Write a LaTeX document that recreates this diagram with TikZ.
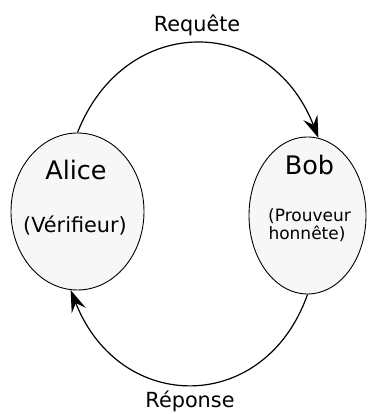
\documentclass[tikz,border=0pt]{standalone}
\usepackage{fontspec}
\setmainfont{DejaVu Sans}
\usetikzlibrary{arrows.meta,shapes.geometric}
\begin{document}
\begin{tikzpicture}[x=1pt,y=1pt,
  party/.style={draw=black,line width=0.9pt,fill=black!3,ellipse,inner sep=0pt},
  flow/.style={line width=1.2pt,-{Stealth[length=22pt,width=15pt,inset=8pt]}},
  partyname/.style={anchor=base,font=\fontsize{25.5}{28}\selectfont},
  partyrole/.style={anchor=base,font=\fontsize{20.8}{24}\selectfont},
  smallrole/.style={anchor=base,font=\fontsize{17}{18}\selectfont},
  arclabel/.style={anchor=base,font=\fontsize{20.8}{24}\selectfont}]
\useasboundingbox (0,0) rectangle (367,414);
% the two parties
\node[party,minimum width=133pt,minimum height=157pt] (alice) at (77.5,202.5) {};
\node[party,minimum width=117pt,minimum height=157pt] (bob) at (307.5,198.5) {};
\node[partyname] (alicename) at (76,234) {Alice};
\node[partyrole] (alicerole) at (75,181) {(Vérifieur)};
\node[partyname] (bobname) at (309.5,239) {Bob};
\node[smallrole] (bobrole1) at (309.5,192) {(Prouveur};
\node[smallrole] (bobrole2) at (307,174) {honnête)};
% request and response
\draw[flow] (alice.north) .. controls (125,402) and (270,400) .. (bob.82);
\draw[flow] (bob.south) .. controls (265,-1) and (120,-1) .. (alice.265);
\node[arclabel] (req) at (197,382) {Requête};
\node[arclabel] (rep) at (190,6) {Réponse};
\end{tikzpicture}
\end{document}
